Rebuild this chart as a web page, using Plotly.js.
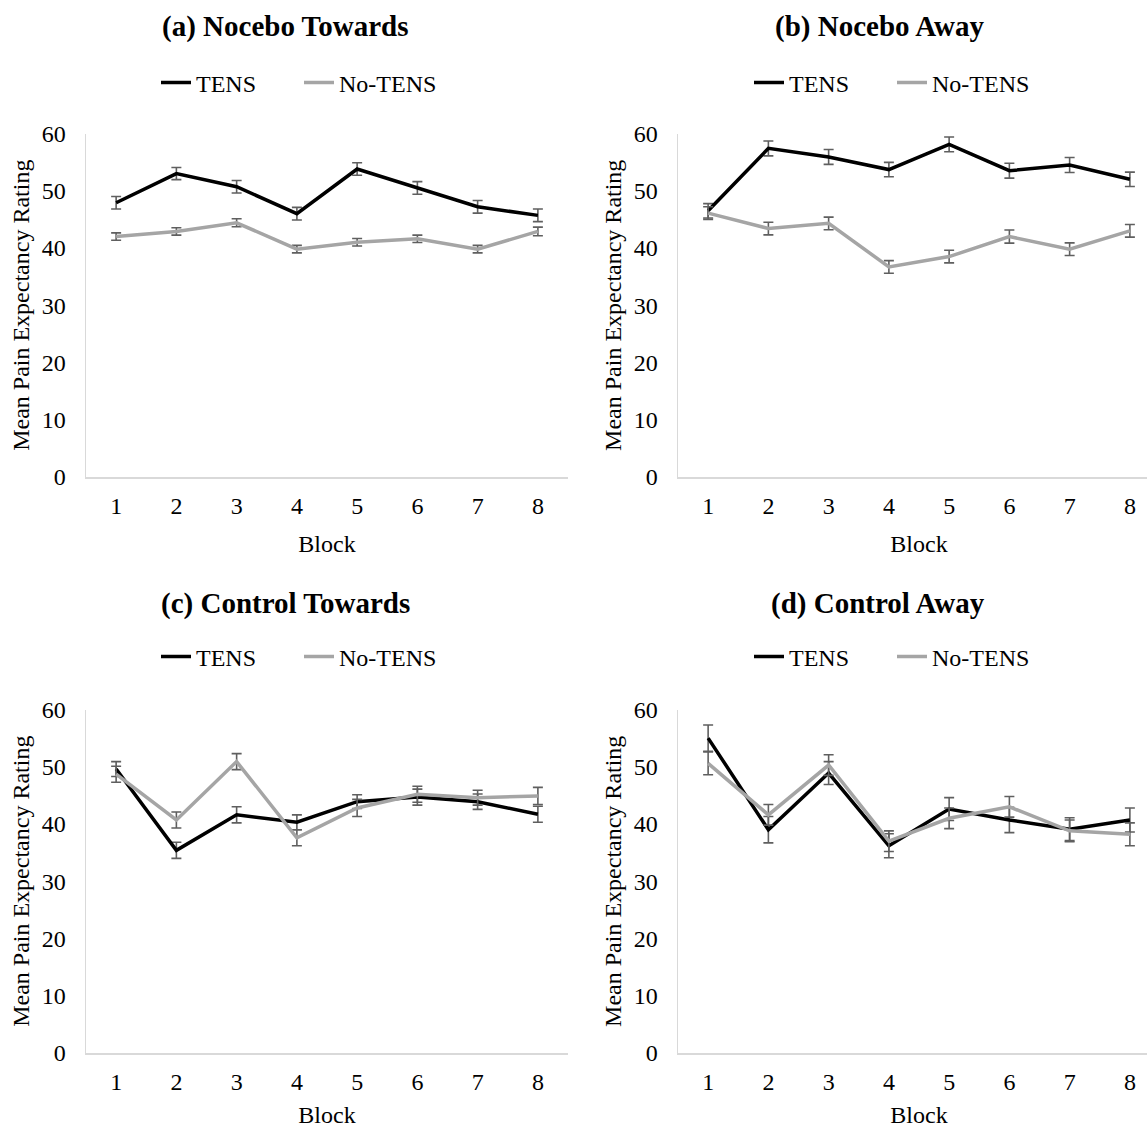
<!DOCTYPE html>
<html>
<head>
<meta charset="utf-8">
<script src="https://cdn.plot.ly/plotly-3.0.1.min.js"></script>
<style>
html, body { margin: 0; padding: 0; overflow: hidden; background: #fff; }
#chart { width: 1180px; height: 1128px; }
</style>
</head>
<body>
<div id="chart"></div>
<script>
// ---- data ----
const blocks = [1, 2, 3, 4, 5, 6, 7, 8];
const seriesNames = ["TENS", "No-TENS"];
const panelTitles = ["(a) Nocebo Towards", "(b) Nocebo Away", "(c) Control Towards", "(d) Control Away"];
const yTicks = [0, 10, 20, 30, 40, 50, 60];

const tensA    = [47.9, 53.0, 50.7, 46.0, 53.8, 50.5, 47.2, 45.7];
const tensAErr = [1.1, 1.05, 1.1, 1.1, 1.1, 1.1, 1.1, 1.1];
const noA      = [42.0, 42.9, 44.4, 39.8, 41.0, 41.6, 39.8, 42.9];
const noAErr   = [0.65, 0.65, 0.7, 0.65, 0.65, 0.65, 0.65, 0.75];

const tensB    = [46.5, 57.4, 55.9, 53.7, 58.1, 53.5, 54.5, 52.0];
const tensBErr = [1.25, 1.3, 1.3, 1.25, 1.3, 1.3, 1.3, 1.25];
const noB      = [46.1, 43.4, 44.3, 36.7, 38.5, 42.0, 39.8, 43.0];
const noBErr   = [1.1, 1.1, 1.1, 1.1, 1.1, 1.15, 1.1, 1.1];

const tensC    = [49.6, 35.4, 41.6, 40.3, 43.9, 44.7, 43.9, 41.7];
const tensCErr = [1.3, 1.4, 1.4, 1.3, 1.2, 1.4, 1.35, 1.4];
const noC      = [48.7, 40.7, 50.9, 37.6, 42.8, 45.2, 44.6, 44.9];
const noCErr   = [1.4, 1.4, 1.4, 1.4, 1.5, 1.4, 1.3, 1.5];

const tensD    = [55.0, 39.0, 48.9, 36.2, 42.6, 40.7, 39.1, 40.7];
const tensDErr = [2.3, 2.3, 2.0, 2.1, 2.0, 2.2, 2.0, 2.1];
const noD      = [50.6, 41.6, 50.3, 37.0, 41.0, 43.0, 38.8, 38.2];
const noDErr   = [2.0, 1.8, 1.8, 1.8, 1.8, 1.8, 1.9, 2.0];

// ---- styling ----
const FONT = "Liberation Serif, Times New Roman, serif";
const W = 1180, H = 1128;
const tensColor = "#000000";
const noColor = "#A5A5A5";
const errColor = "#5F5F5F";

const panels = [
  {t: tensA, te: tensAErr, n: noA, ne: noAErr},
  {t: tensB, te: tensBErr, n: noB, ne: noBErr},
  {t: tensC, te: tensCErr, n: noC, ne: noCErr},
  {t: tensD, te: tensDErr, n: noD, ne: noDErr}
];

// plot areas in pixels: [x0, x1, yTop, yBottom]
const boxes = [
  [86, 568, 133.5, 477],
  [678, 1160, 133.5, 477],
  [86, 568, 709.5, 1053],
  [678, 1160, 709.5, 1053]
];
const legendPos = [[156, 83], [749, 83], [156, 657], [749, 657]];
const titlePos = [[285, 27], [879, 27], [285, 603], [877.5, 603]];

const traces = [];
const layout = {
  width: W, height: H,
  margin: {l: 0, r: 0, t: 0, b: 0},
  paper_bgcolor: "#fff", plot_bgcolor: "#fff",
  font: {family: FONT, size: 24, color: "#000"},
  annotations: [],
  showlegend: true
};

panels.forEach((p, i) => {
  const k = i + 1;
  const xa = k === 1 ? "x" : "x" + k;
  const ya = k === 1 ? "y" : "y" + k;
  const lg = k === 1 ? "legend" : "legend" + k;
  traces.push({
    x: blocks, y: p.t, type: "scatter", mode: "lines", name: seriesNames[0],
    xaxis: xa, yaxis: ya, legend: lg,
    line: {color: tensColor, width: 3.5},
    error_y: {type: "data", array: p.te, visible: true, color: errColor, thickness: 1.6, width: 5}
  });
  traces.push({
    x: blocks, y: p.n, type: "scatter", mode: "lines", name: seriesNames[1],
    xaxis: xa, yaxis: ya, legend: lg,
    line: {color: noColor, width: 3.5},
    error_y: {type: "data", array: p.ne, visible: true, color: errColor, thickness: 1.6, width: 5}
  });
  const b = boxes[i];
  const xKey = k === 1 ? "xaxis" : "xaxis" + k;
  const yKey = k === 1 ? "yaxis" : "yaxis" + k;
  layout[xKey] = {
    domain: [b[0] / W, b[1] / W],
    anchor: ya,
    range: [0.5, 8.5],
    tickvals: blocks,
    ticktext: blocks.map(String),
    showgrid: false, zeroline: false,
    showline: true, linecolor: "#D9D9D9", linewidth: 1.5,
    ticks: "", ticklabelstandoff: 7,
    tickfont: {family: FONT, size: 24, color: "#000"},
    title: {text: "Block", font: {family: FONT, size: 24, color: "#000"}, standoff: 17},
    fixedrange: true
  };
  layout[yKey] = {
    domain: [1 - b[3] / H, 1 - b[2] / H],
    anchor: xa,
    range: [0, 60],
    tickvals: yTicks,
    showgrid: false, zeroline: false,
    showline: true, linecolor: "#D9D9D9", linewidth: 1.5,
    ticks: "", ticklabelstandoff: 14,
    tickfont: {family: FONT, size: 24, color: "#000"},
    title: {text: "Mean Pain Expectancy Rating", font: {family: FONT, size: 24, color: "#000"}, standoff: 5},
    fixedrange: true
  };
  layout[lg] = {
    orientation: "h",
    x: legendPos[i][0] / W, y: 1 - legendPos[i][1] / H,
    xanchor: "left", yanchor: "middle",
    font: {family: FONT, size: 24, color: "#000"},
    bgcolor: "rgba(0,0,0,0)",
    itemwidth: 30,
    entrywidth: 98,
    entrywidthmode: "pixels",
    traceorder: "normal"
  };
  layout.annotations.push({
    text: "<b>" + panelTitles[i] + "</b>",
    x: titlePos[i][0] / W, y: 1 - titlePos[i][1] / H,
    xref: "paper", yref: "paper",
    xanchor: "center", yanchor: "middle",
    showarrow: false,
    font: {family: FONT, size: 29, color: "#000"}
  });
});

Plotly.newPlot("chart", traces, layout, {staticPlot: true, displayModeBar: false});
</script>
</body>
</html>
